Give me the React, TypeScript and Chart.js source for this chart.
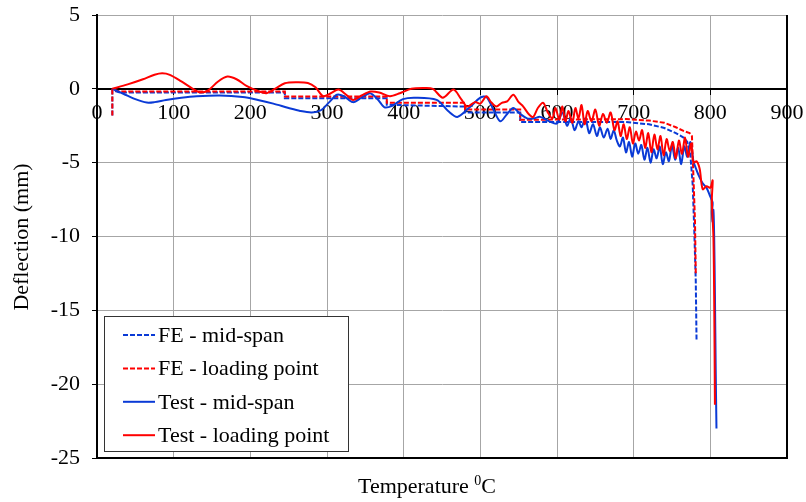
import React, { useEffect, useRef } from 'react';
import { Chart, registerables } from 'chart.js';

Chart.register(...registerables);

// ---- axis ticks ----
const xMin = 0;
const xMax = 900;
const xStep = 100;
const yMin = -25;
const yMax = 5;
const yStep = 5;

// ---- series labels ----
const seriesLabels = ['FE - mid-span', 'FE - loading point', 'Test - mid-span', 'Test - loading point'];

// ---- FE mid-span (blue dashed) ----
const feMidT = [20, 20, 30, 245, 245, 378, 378, 480, 480, 552, 552, 690, 720, 740, 755, 765, 770, 774, 777, 779, 781, 782];
const feMidD = [-1.8, -0.1, -0.25, -0.25, -0.63, -0.63, -1.08, -1.2, -1.6, -1.6, -2.25, -2.25, -2.4, -2.65, -3.0, -3.3, -3.6, -4.5, -6.5, -9.5, -13, -17];

// ---- FE loading point (red dashed) ----
const feLoadT = [20, 20, 30, 245, 245, 378, 378, 480, 480, 552, 552, 690, 720, 740, 755, 765, 773, 776, 778, 780, 781];
const feLoadD = [-1.8, -0.05, -0.18, -0.18, -0.52, -0.52, -0.95, -0.95, -1.4, -1.4, -2.1, -2.05, -2.15, -2.3, -2.6, -2.85, -3.0, -3.2, -6, -9, -12.5];

// ---- Test mid-span (blue solid) ----
const testMidT = [20, 35, 50, 65, 75, 90, 110, 130, 160, 190, 210, 230, 250, 265, 280, 292, 303, 313, 322, 334, 345, 356, 366, 375, 385, 399, 415, 443, 458, 470, 485, 500, 508, 517, 526, 535, 543, 552, 561, 570, 578, 590, 600, 607, 613, 618, 623, 628, 632, 637, 642, 647, 652, 656, 661, 666, 670, 674, 678, 682, 686, 690, 694, 698, 702, 706, 710, 714, 718, 722, 726, 730, 734, 738, 742, 746, 750, 754, 758, 762, 766, 770, 774, 778, 782, 786, 790, 795, 800, 803, 802, 803, 804, 805, 806, 807, 808];
const testMidD = [0, -0.35, -0.7, -0.93, -0.9, -0.75, -0.6, -0.5, -0.45, -0.55, -0.75, -1.0, -1.3, -1.5, -1.6, -1.45, -0.9, -0.4, -0.5, -0.9, -0.6, -0.3, -0.7, -1.25, -1.15, -0.7, -0.6, -0.75, -1.5, -1.9, -1.3, -0.6, -0.55, -1.4, -2.2, -1.7, -1.3, -1.7, -2.0, -2.0, -1.9, -2.2, -2.35, -1.6, -2.5, -2.0, -2.8, -2.2, -2.6, -2.0, -3.0, -2.4, -3.2, -2.6, -3.3, -2.7, -3.4, -2.8, -3.5, -3.9, -3.3, -4.3, -3.6, -4.6, -3.7, -4.4, -3.8, -4.8, -4.0, -5.0, -4.1, -4.7, -3.9, -5.1, -4.3, -4.9, -3.8, -4.8, -4.0, -5.1, -3.9, -4.6, -3.6, -4.9, -5.5, -6.0, -6.4, -6.7, -7.3, -7.7, -8.3, -9.0, -8.2, -10, -14, -19, -23];

// ---- Test loading point (red solid) ----
const testLoadT = [20, 40, 60, 75, 85, 95, 110, 125, 135, 145, 158, 170, 182, 195, 210, 221, 232, 245, 260, 275, 285, 295, 305, 315, 325, 334, 345, 357, 368, 382, 395, 410, 425, 438, 451, 465, 475, 483, 493, 500, 508, 514, 521, 528, 535, 543, 550, 556, 563, 569, 575, 582, 588, 594, 598, 603, 607, 611, 615, 620, 624, 628, 632, 636, 640, 645, 650, 655, 660, 665, 670, 675, 679, 683, 687, 691, 695, 699, 703, 707, 711, 715, 719, 723, 727, 731, 735, 739, 743, 747, 751, 755, 759, 763, 767, 771, 775, 778, 782, 786, 790, 795, 800, 803, 802, 804, 805, 806];
const testLoadD = [0, 0.3, 0.65, 0.95, 1.05, 0.95, 0.5, 0.0, -0.25, -0.1, 0.5, 0.83, 0.65, 0.2, -0.15, -0.3, 0.0, 0.38, 0.45, 0.4, 0.1, -0.5, -0.3, -0.05, -0.4, -0.75, -0.45, -0.18, -0.25, -0.5, -0.3, 0.0, 0.05, 0.0, -0.6, -0.05, -0.7, -1.2, -0.9, -1.0, -0.5, -0.9, -1.2, -0.95, -0.85, -0.4, -0.9, -1.2, -1.7, -1.9, -1.3, -0.95, -1.6, -2.0, -1.3, -2.1, -1.2, -2.2, -1.5, -2.3, -1.3, -2.0, -1.1, -2.4, -1.5, -2.2, -1.4, -2.5, -1.7, -2.3, -1.6, -2.8, -2.2, -3.2, -2.4, -3.4, -2.6, -3.7, -2.9, -3.5, -2.8, -4.0, -3.0, -4.3, -3.1, -4.1, -3.2, -4.5, -3.4, -4.2, -3.6, -4.7, -3.5, -4.4, -3.3, -4.6, -3.7, -5.0, -4.9, -5.4, -6.8, -6.6, -6.7, -6.2, -7.5, -10, -14, -21.4];

const BLUE = '#0a3ad6';
const RED = '#ff0000';
const FONT = '"Liberation Serif", "Times New Roman", serif';
const FS = 22;

const toPts = (t: number[], d: number[]) => t.map((v, i) => ({ x: v, y: d[i] }));

const framePlugin = {
  id: 'frame',
  beforeDatasetsDraw(chart: any) {
    const { ctx, chartArea, scales } = chart;
    const yb = scales.y.getPixelForValue(yMin);
    const xr = scales.x.getPixelForValue(xMax);
    ctx.save();
    ctx.strokeStyle = '#000';
    ctx.lineWidth = 2;
    ctx.beginPath();
    ctx.moveTo(chartArea.left, yb);
    ctx.lineTo(xr, yb);
    ctx.lineTo(xr, chartArea.top);
    ctx.stroke();
    ctx.restore();
  },
  afterDraw(chart: any) {
    const { ctx, chartArea } = chart;
    ctx.save();
    // legend box
    const x0 = chartArea.left + 7;
    const w = 244;
    const h = 135;
    const y0 = chartArea.bottom - 7 - h;
    ctx.fillStyle = '#fff';
    ctx.fillRect(x0, y0, w, h);
    ctx.strokeStyle = '#333';
    ctx.lineWidth = 1;
    ctx.strokeRect(x0 + 0.5, y0 + 0.5, w, h);
    chart.data.datasets.forEach((ds: any, i: number) => {
      const cy = y0 + 19 + i * 33.4;
      ctx.strokeStyle = ds.borderColor;
      ctx.lineWidth = 2;
      ctx.setLineDash(ds.borderDash || []);
      ctx.beginPath();
      ctx.moveTo(x0 + 19, cy);
      ctx.lineTo(x0 + 51, cy);
      ctx.stroke();
      ctx.setLineDash([]);
      ctx.fillStyle = '#000';
      ctx.font = `${FS}px ${FONT}`;
      ctx.textBaseline = 'middle';
      ctx.textAlign = 'left';
      ctx.fillText(ds.label, x0 + 54, cy + 1);
    });
    // y axis title
    ctx.save();
    ctx.translate(22, 237);
    ctx.rotate(-Math.PI / 2);
    ctx.font = `${FS}px ${FONT}`;
    ctx.fillStyle = '#000';
    ctx.textAlign = 'center';
    ctx.textBaseline = 'middle';
    ctx.fillText('Deflection (mm)', 0, 0);
    ctx.restore();
    // x axis title with superscript
    ctx.font = `${FS}px ${FONT}`;
    const a = 'Temperature ';
    const c = 'C';
    const wa = ctx.measureText(a).width;
    const wc = ctx.measureText(c).width;
    ctx.font = `14px ${FONT}`;
    const sup = '0';
    const ws = ctx.measureText(sup).width;
    const total = wa + ws + wc;
    const cx = 427;
    const base = 493;
    let x = cx - total / 2;
    ctx.fillStyle = '#000';
    ctx.textAlign = 'left';
    ctx.textBaseline = 'alphabetic';
    ctx.font = `${FS}px ${FONT}`;
    ctx.fillText(a, x, base);
    x += wa;
    ctx.font = `14px ${FONT}`;
    ctx.fillText(sup, x, base - 8);
    x += ws;
    ctx.font = `${FS}px ${FONT}`;
    ctx.fillText(c, x, base);
    ctx.restore();
  },
};

export default function App() {
  const ref = useRef<HTMLCanvasElement | null>(null);
  useEffect(() => {
    if (!ref.current) return;
    Chart.defaults.font.family = FONT;
    Chart.defaults.font.size = FS;
    Chart.defaults.color = '#000';
    const chart = new Chart(ref.current, {
      type: 'line',
      data: {
        datasets: [
          { label: seriesLabels[0], data: toPts(feMidT, feMidD), borderColor: BLUE, borderWidth: 2, borderDash: [5, 2], pointRadius: 0, tension: 0, order: 4 },
          { label: seriesLabels[1], data: toPts(feLoadT, feLoadD), borderColor: RED, borderWidth: 2, borderDash: [5, 2], pointRadius: 0, tension: 0, order: 3 },
          { label: seriesLabels[2], data: toPts(testMidT, testMidD), borderColor: BLUE, borderWidth: 2, pointRadius: 0, tension: 0.3, order: 2 },
          { label: seriesLabels[3], data: toPts(testLoadT, testLoadD), borderColor: RED, borderWidth: 2, pointRadius: 0, tension: 0.3, order: 1 },
        ],
      },
      options: {
        animation: false,
        responsive: false,
        parsing: false as any,
        layout: { padding: { left: 0, top: 15, right: 19, bottom: 44 } },
        plugins: { legend: { display: false }, tooltip: { enabled: false } },
        scales: {
          x: {
            type: 'linear',
            position: { y: 0 } as any,
            min: xMin,
            max: xMax,
            ticks: { stepSize: xStep, autoSkip: false, maxRotation: 0, padding: 6, font: { size: FS, family: FONT }, color: '#000' },
            grid: {
              color: (c: any) => (c.tick && (c.tick.value === xMin || c.tick.value === xMax) ? 'rgba(0,0,0,0)' : '#a6a6a6'),
              lineWidth: 1,
              tickLength: 5,
              tickColor: '#000',
            },
            border: { color: '#000', width: 2 },
            afterFit: (s: any) => { s.paddingLeft = 0; s.paddingRight = 0; },
          },
          y: {
            type: 'linear',
            min: yMin,
            max: yMax,
            ticks: { stepSize: yStep, padding: 12, font: { size: FS, family: FONT }, color: '#000' },
            grid: {
              color: (c: any) => (c.tick && (c.tick.value === 0 || c.tick.value === yMin) ? 'rgba(0,0,0,0)' : '#a6a6a6'),
              lineWidth: 1,
              tickLength: 5,
              tickColor: '#000',
            },
            border: { color: '#000', width: 2 },
            afterFit: (s: any) => { s.width = 97; s.paddingTop = 0; s.paddingBottom = 0; },
          },
        },
      },
      plugins: [framePlugin],
    });
    return () => chart.destroy();
  }, []);
  return (
    <div style={{ position: 'fixed', left: 0, top: 0, width: 806, height: 502, background: '#fff' }}>
      <canvas ref={ref} width={806} height={502} style={{ display: 'block' }} />
    </div>
  );
}
